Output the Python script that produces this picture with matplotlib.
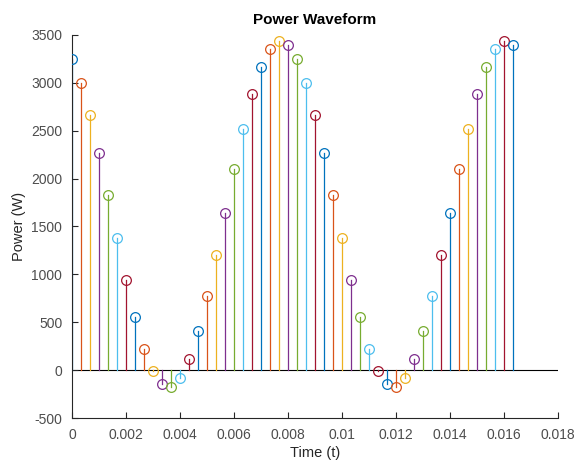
import matplotlib
matplotlib.use("Agg")
import matplotlib.pyplot as plt
import numpy as np

plt.rcParams['font.family'] = ['Liberation Sans', 'DejaVu Sans']
plt.rcParams['axes.unicode_minus'] = False

# sample times (s) and power values (W)
sample_step = 1 / 3000
n_samples = 50
power = [3250, 3000, 2665, 2270, 1830, 1380, 945, 550, 225, -12,
         -148, -172, -82, 113, 405, 772, 1198, 1645, 2098, 2518,
         2880, 3165, 3355, 3440, 3400,
         3250, 3000, 2665, 2270, 1830, 1380, 945, 550, 225, -12,
         -148, -172, -82, 113, 405, 772, 1198, 1645, 2098, 2518,
         2880, 3165, 3355, 3440, 3400]
times = [i * sample_step for i in range(n_samples)]

matlab_colors = ['#0072BD', '#D95319', '#EDB120', '#7E2F8E',
                 '#77AC30', '#4DBEEE', '#A2142F']

x_ticks = [0, 0.002, 0.004, 0.006, 0.008, 0.01, 0.012, 0.014, 0.016, 0.018]
x_tick_labels = ['0', '0.002', '0.004', '0.006', '0.008', '0.01',
                 '0.012', '0.014', '0.016', '0.018']
y_ticks = [-500, 0, 500, 1000, 1500, 2000, 2500, 3000, 3500]

fig = plt.figure(figsize=(5.79, 4.65), dpi=100)
ax = fig.add_axes([72/579, 1 - 418/465, (558-72)/579, (418-35)/465])

for i, (t, p) in enumerate(zip(times, power)):
    c = matlab_colors[i % len(matlab_colors)]
    ax.plot([t, t], [0, p], color=c, lw=0.9, zorder=2)
    ax.plot([t], [p], marker='o', ms=7, mfc='none', mec=c, mew=0.9, zorder=3)

ax.axhline(0, color='black', lw=0.8, zorder=1)

ax.set_xlim(0, 0.018)
ax.set_ylim(-500, 3500)
ax.set_xticks(x_ticks)
ax.set_xticklabels(x_tick_labels)
ax.set_yticks(y_ticks)

for s in ['top', 'right']:
    ax.spines[s].set_visible(False)
for s in ['left', 'bottom']:
    ax.spines[s].set_color('#262626')
    ax.spines[s].set_linewidth(0.8)

ax.tick_params(direction='in', length=4, width=0.8, colors='#262626',
               labelsize=10, labelcolor='#4d4d4d')
ax.tick_params(axis='x', pad=7)
ax.tick_params(axis='y', pad=7)

ax.set_xlabel('Time (t)', fontsize=10.5, color='#262626', labelpad=3)
ax.set_ylabel('Power (W)', fontsize=10.5, color='#262626', labelpad=4)
ax.set_title('Power Waveform', fontsize=11, fontweight='bold', color='black', pad=8)

fig.savefig('out.png', dpi=100)
